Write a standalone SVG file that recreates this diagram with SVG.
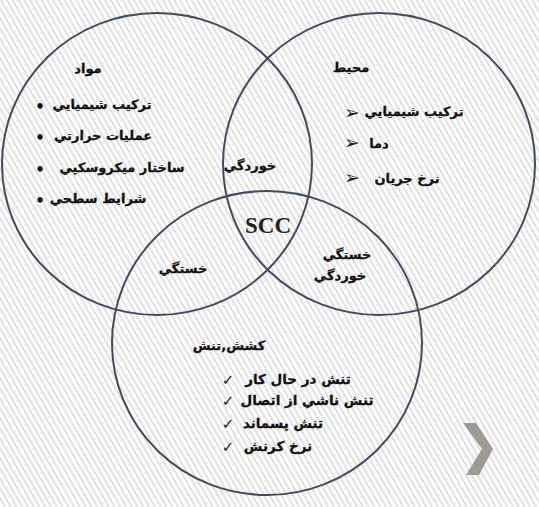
<svg xmlns="http://www.w3.org/2000/svg" width="539" height="507" viewBox="0 0 539 507">
<defs>
<pattern id="stripes" width="5" height="5" patternUnits="userSpaceOnUse" patternTransform="rotate(-30)">
<rect x="0" y="0" width="1.7" height="5" fill="#dcdcdc"/>
</pattern>
</defs>
<style>
.c{fill:none;stroke:#434c5c;stroke-width:2}
.t{font-family:"DejaVu Sans","Liberation Sans",sans-serif;font-weight:bold;font-size:13px;fill:#111;stroke:#111;stroke-width:0.3;text-anchor:middle}
.b{font-size:13.5px}
.s{font-family:"Liberation Serif","DejaVu Serif",serif;font-weight:bold;font-size:23px;fill:#222;text-anchor:middle}
.d{font-family:"DejaVu Sans",sans-serif;font-weight:bold;font-size:15px;fill:#111;text-anchor:middle}
.a{font-family:"DejaVu Sans",sans-serif;font-size:19px;fill:#222;text-anchor:middle}
.m{font-family:"DejaVu Sans",sans-serif;font-size:15px;fill:#222;text-anchor:middle}
</style>
<rect width="539" height="507" fill="#ffffff"/>
<rect width="539" height="507" fill="url(#stripes)"/>
<g id="connectors"></g>
<g id="materials">
<ellipse class="c" cx="157" cy="164" rx="155" ry="151"/>
<text class="t" x="88" y="73" direction="rtl">مواد</text>
<text class="d" x="40" y="112">•</text>
<text class="t" x="102" y="109" direction="rtl">تركيب شيميايي</text>
<text class="d" x="40" y="143">•</text>
<text class="t" x="103" y="140" direction="rtl">عمليات حرارتي</text>
<text class="d" x="40" y="175">•</text>
<text class="t" x="122" y="172" direction="rtl">ساختار ميكروسكپي</text>
<text class="d" x="40" y="206">•</text>
<text class="t" x="98" y="203" direction="rtl">شرايط سطحي</text>
</g>
<g id="environment">
<ellipse class="c" cx="379" cy="164" rx="156" ry="151"/>
<text class="t" x="351" y="72" direction="rtl">محيط</text>
<text class="a" x="352" y="119">➢</text>
<text class="t" x="414" y="116" direction="rtl">تركيب شيميايي</text>
<text class="a" x="352" y="149">➢</text>
<text class="t" x="379" y="148" direction="rtl">دما</text>
<text class="a" x="352" y="184">➢</text>
<text class="t" x="407" y="183" direction="rtl">نرخ جريان</text>
</g>
<g id="stress">
<ellipse class="c" cx="267" cy="343" rx="155" ry="152"/>
<text class="t" x="229" y="350" direction="rtl">كشش,تنش</text>
<text class="m" x="228" y="385">✓</text>
<text class="t b" x="298" y="384" direction="rtl">تنش در حال كار</text>
<text class="m" x="228" y="406">✓</text>
<text class="t b" x="307" y="405" direction="rtl">تنش ناشي از اتصال</text>
<text class="m" x="228" y="429">✓</text>
<text class="t b" x="283" y="428" direction="rtl">تنش پسماند</text>
<text class="m" x="228" y="452">✓</text>
<text class="t b" x="278" y="451" direction="rtl">نرخ كرنش</text>
</g>
<g id="intersections">
<text class="t" x="250" y="170" direction="rtl">خوردگي</text>
<text class="s" x="268" y="233">SCC</text>
<text class="t" x="183" y="273" direction="rtl">خستگي</text>
<text class="t" x="347" y="259" direction="rtl">خستگي</text>
<text class="t" x="340" y="280" direction="rtl">خوردگي</text>
</g>
<g id="next">
<polygon points="463,423 476,423 493,449 479,475 466,475 482,449" fill="#a09a95"/>
</g>
</svg>
